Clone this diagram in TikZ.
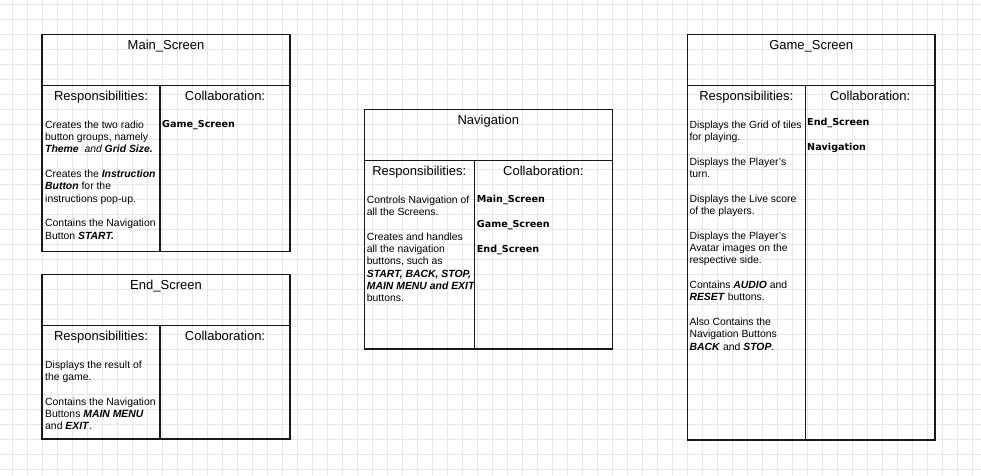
\documentclass[tikz,border=0pt]{standalone}
\usepackage{fontspec}
\setmainfont{Liberation Sans}
\newfontfamily\collabfont{DejaVu Sans}
\usepackage{tikz}
\usepackage{xcolor}
\usetikzlibrary{positioning}
\definecolor{gridcolor}{RGB}{230,230,240}
\definecolor{cardcolor}{RGB}{24,24,24}
\newcommand{\btn}[1]{\textbf{\textit{#1}}}
\tikzstyle{card} = [draw=cardcolor, line width=1.6pt]
\tikzstyle{cardtitle} = [font=\fontsize{13}{15}\selectfont, anchor=base, inner sep=0pt]
\tikzstyle{heading} = [font=\fontsize{13}{15}\selectfont, anchor=base, inner sep=0pt]
\tikzstyle{resp} = [font=\fontsize{10.4}{12.33}\selectfont, anchor=base west, inner sep=0pt]
\tikzstyle{collab} = [font=\collabfont\bfseries\fontsize{9.6}{12.33}\selectfont, anchor=base west, inner sep=0pt]

\begin{document}
\begin{tikzpicture}[x=1pt, y=-1pt]
    \useasboundingbox (0,0) rectangle (981,475);

    % Background grid
    \foreach \i in {0,...,64} {
        \draw[gridcolor, line width=0.8pt] ({12.7+15*\i}, 0) -- ({12.7+15*\i}, 475);
    }
    \foreach \j in {0,...,31} {
        \draw[gridcolor, line width=0.8pt] (0, {4.3+15*\j}) -- (981, {4.3+15*\j});
    }

    % Main_Screen card
    \draw[card] (42,34.3) rectangle (290,251.5);
    \draw[card] (42,85.3) -- (290,85.3);
    \draw[card] (160,85.3) -- (160,251.5);
    \node[cardtitle] (main_title) at (166,49) {Main\_Screen};
    \node[heading] (main_resp_head) at (101,100.3) {Responsibilities:};
    \node[heading] (main_collab_head) at (225,100.3) {Collaboration:};
    \node[resp] (main_resp) at (45,128.3) {\parbox[t]{125pt}{\raggedright
        Creates the two radio\\
        button groups, namely\\
        \textit{\textbf{Theme}\ \ and \textbf{Grid Size.}}\\[\baselineskip]
        Creates the \btn{Instruction}\\
        \btn{Button} for the\\
        instructions pop-up.\\[\baselineskip]
        Contains the Navigation\\
        Button \btn{START.}}};
    \node[collab] (main_collab) at (162,127.8) {Game\_Screen};

    % End_Screen card
    \draw[card] (42,274.3) rectangle (290,439);
    \draw[card] (42,325.3) -- (290,325.3);
    \draw[card] (160,325.3) -- (160,439);
    \node[cardtitle] (end_title) at (166,289) {End\_Screen};
    \node[heading] (end_resp_head) at (101,340.3) {Responsibilities:};
    \node[heading] (end_collab_head) at (225,340.3) {Collaboration:};
    \node[resp] (end_resp) at (45,368.3) {\parbox[t]{125pt}{\raggedright
        Displays the result of\\
        the game.\\[\baselineskip]
        Contains the Navigation\\
        Buttons \btn{MAIN MENU}\\
        and \btn{EXIT}.}};

    % Navigation card
    \draw[card] (364.3,109.3) rectangle (612.3,348.7);
    \draw[card] (364.3,160.3) -- (612.3,160.3);
    \draw[card] (474.3,160.3) -- (474.3,348.7);
    \node[cardtitle] (nav_title) at (488.3,124) {Navigation};
    \node[heading] (nav_resp_head) at (419.3,175.3) {Responsibilities:};
    \node[heading] (nav_collab_head) at (543.3,175.3) {Collaboration:};
    \node[resp] (nav_resp) at (366.7,203.3) {\parbox[t]{125pt}{\raggedright
        Controls Navigation of\\
        all the Screens.\\[\baselineskip]
        Creates and handles\\
        all the navigation\\
        buttons, such as\\
        \btn{START, BACK, STOP,}\\
        \btn{MAIN MENU and EXIT}\\
        buttons.}};
    \node[collab] (nav_collab) at (476.7,202.8) {\parbox[t]{100pt}{\raggedright
        Main\_Screen\\[\baselineskip]
        Game\_Screen\\[\baselineskip]
        End\_Screen}};

    % Game_Screen card
    \draw[card] (687.3,34.3) rectangle (935,440);
    \draw[card] (687.3,85.3) -- (935,85.3);
    \draw[card] (805.3,85.3) -- (805.3,440);
    \node[cardtitle] (game_title) at (811.2,49) {Game\_Screen};
    \node[heading] (game_resp_head) at (746.3,100.3) {Responsibilities:};
    \node[heading] (game_collab_head) at (870.2,100.3) {Collaboration:};
    \node[resp] (game_resp) at (689.3,128.3) {\parbox[t]{125pt}{\raggedright
        Displays the Grid of tiles\\
        for playing.\\[\baselineskip]
        Displays the Player's\\
        turn.\\[\baselineskip]
        Displays the Live score\\
        of the players.\\[\baselineskip]
        Displays the Player's\\
        Avatar images on the\\
        respective side.\\[\baselineskip]
        Contains \btn{AUDIO} and\\
        \btn{RESET} buttons.\\[\baselineskip]
        Also Contains the\\
        Navigation Buttons\\
        \btn{BACK} and \btn{STOP}.}};
    \node[collab] (game_collab) at (807,125.5) {\parbox[t]{100pt}{\raggedright
        End\_Screen\\[\baselineskip]
        Navigation}};

\end{tikzpicture}
\end{document}
